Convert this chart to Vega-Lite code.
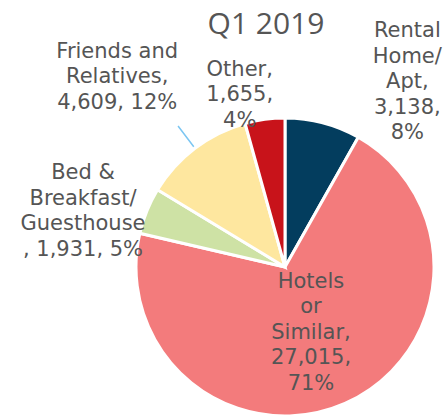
{
  "$schema": "https://vega.github.io/schema/vega-lite/v6.json",
  "width": 300,
  "height": 300,
  "autosize": {"type": "none"},
  "padding": {"left": 135, "top": 117, "right": 13, "bottom": 0},
  "background": "white",
  "title": {
    "text": "Q1 2019",
    "font": "Open Sans",
    "fontSize": 30,
    "fontWeight": 500,
    "color": "#555555",
    "anchor": "middle",
    "dx": -19,
    "offset": -20
  },
  "config": {"view": {"stroke": null}},
  "data": {
    "values": [
      {"category": "Rental Home/Apt", "value": 3138, "order": 1, "label": "Rental\nHome/\nApt,\n3,138,\n8%"},
      {"category": "Hotels or Similar", "value": 27015, "order": 2, "label": "Hotels\nor\nSimilar,\n27,015,\n71%"},
      {"category": "Bed & Breakfast/Guesthouse", "value": 1931, "order": 3, "label": "Bed &\nBreakfast/\nGuesthouse\n, 1,931, 5%"},
      {"category": "Friends and Relatives", "value": 4609, "order": 4, "label": "Friends and\nRelatives,\n4,609, 12%"},
      {"category": "Other", "value": 1655, "order": 5, "label": "Other,\n1,655,\n4%"}
    ]
  },
  "transform": [
    {"stack": "value", "groupby": [], "sort": [{"field": "order", "order": "ascending"}], "as": ["v0", "v1"]},
    {"calculate": "(datum.v0 + datum.v1) / 2", "as": "mid"}
  ],
  "layer": [
    {
      "mark": {"type": "arc", "radius": 149, "stroke": "white", "strokeWidth": 3},
      "encoding": {
        "theta": {"field": "v0", "type": "quantitative", "scale": {"domain": [0, 38348], "nice": false, "zero": true}},
        "theta2": {"field": "v1"},
        "color": {
          "field": "category",
          "type": "nominal",
          "legend": null,
          "scale": {
            "domain": ["Rental Home/Apt", "Hotels or Similar", "Bed & Breakfast/Guesthouse", "Friends and Relatives", "Other"],
            "range": ["#033d5e", "#f37b7c", "#cee2a5", "#fee79f", "#c8131a"]
          }
        }
      }
    },
    {
      "transform": [{"filter": "datum.order == 4"}],
      "mark": {"type": "arc", "innerRadius": 151, "outerRadius": 177, "fill": null, "fillOpacity": 0, "stroke": "#7cc6f2", "strokeWidth": 1.5},
      "encoding": {"theta": {"field": "mid", "type": "quantitative"}, "theta2": {"field": "mid"}}
    },
    {
      "transform": [{"filter": "datum.order == 1"}],
      "mark": {"type": "text", "radius": 190, "dx": 74, "dy": -52, "font": "DejaVu Sans", "fontSize": 21, "lineHeight": 25.5, "lineBreak": "\n", "color": "#555555", "align": "center", "baseline": "middle"},
      "encoding": {"theta": {"field": "mid", "type": "quantitative"}, "text": {"field": "label"}}
    },
    {
      "transform": [{"filter": "datum.order == 2"}],
      "mark": {"type": "text", "radius": 72, "dx": -3, "dy": -51, "font": "DejaVu Sans", "fontSize": 21, "lineHeight": 25.5, "lineBreak": "\n", "color": "#555555", "align": "center", "baseline": "middle"},
      "encoding": {"theta": {"field": "mid", "type": "quantitative"}, "text": {"field": "label"}}
    },
    {
      "transform": [{"filter": "datum.order == 3"}],
      "mark": {"type": "text", "radius": 190, "dx": -26, "dy": -22, "font": "DejaVu Sans", "fontSize": 21, "lineHeight": 25.5, "lineBreak": "\n", "color": "#555555", "align": "center", "baseline": "middle"},
      "encoding": {"theta": {"field": "mid", "type": "quantitative"}, "text": {"field": "label"}}
    },
    {
      "transform": [{"filter": "datum.order == 4"}],
      "mark": {"type": "text", "radius": 190, "dx": -53, "dy": -64, "font": "DejaVu Sans", "fontSize": 21, "lineHeight": 25.5, "lineBreak": "\n", "color": "#555555", "align": "center", "baseline": "middle"},
      "encoding": {"theta": {"field": "mid", "type": "quantitative"}, "text": {"field": "label"}}
    },
    {
      "transform": [{"filter": "datum.order == 5"}],
      "mark": {"type": "text", "radius": 172, "dx": -22, "dy": -27, "font": "DejaVu Sans", "fontSize": 21, "lineHeight": 25.5, "lineBreak": "\n", "color": "#555555", "align": "center", "baseline": "middle"},
      "encoding": {"theta": {"field": "mid", "type": "quantitative"}, "text": {"field": "label"}}
    }
  ]
}
